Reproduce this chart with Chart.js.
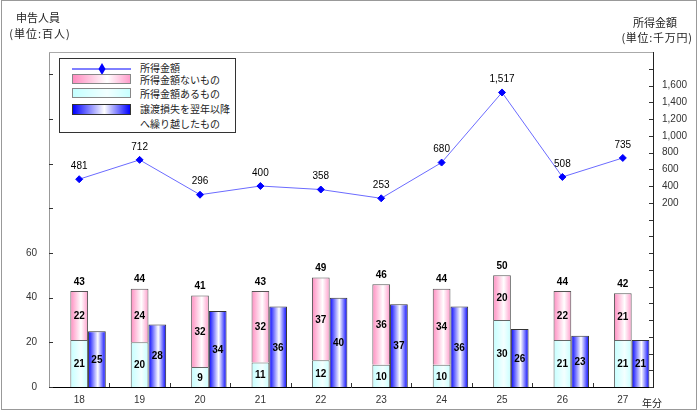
<!DOCTYPE html>
<html lang="ja">
<head>
<meta charset="utf-8">
<title>申告人員と所得金額</title>
<script src="https://cdn.jsdelivr.net/npm/chart.js@4.4.1/dist/chart.umd.min.js"></script>
<style>
body{margin:0;background:#fff;font-family:"Noto Sans CJK JP","Noto Sans",sans-serif;}
#wrap{position:relative;width:700px;height:414px;overflow:hidden;}
#frame{position:absolute;left:1px;top:0;width:696px;height:410px;border:1px solid #999;box-sizing:border-box;}
canvas{position:absolute;left:0;top:0;}
.t{position:absolute;font-size:11px;line-height:14px;color:#222;white-space:nowrap;text-align:center;}
#legend{position:absolute;left:59px;top:58px;width:177px;height:75px;border:1px solid #333;background:#fff;box-sizing:border-box;}
#legend .sw{position:absolute;left:12px;width:59px;height:10px;box-sizing:border-box;}
#legend .tx{position:absolute;left:80px;font-size:10px;line-height:12px;color:#222;white-space:nowrap;}
</style>
</head>
<body>
<div id="wrap">
  <div id="frame"></div>
  <canvas id="chart" width="700" height="414"></canvas>

  <div class="t" style="left:6px;top:10px;width:64px;">申告人員</div>
  <div class="t" style="left:6px;top:26px;width:68px;letter-spacing:1px;">(単位:百人)</div>
  <div class="t" style="left:615px;top:15px;width:80px;">所得金額</div>
  <div class="t" style="left:617px;top:30px;width:80px;letter-spacing:0.7px;">(単位:千万円)</div>
  <div class="t" style="left:642px;top:396px;font-size:10px;">年分</div>

  <!-- 凡例 -->
  <div id="legend">
    <svg style="position:absolute;left:12px;top:3px;" width="60" height="14">
      <line x1="0" y1="7" x2="59" y2="7" stroke="#0000ff" stroke-width="1"/>
      <polygon points="30,1 33.5,7 30,13 26.5,7" fill="#0000ff"/>
    </svg>
    <div class="tx" style="top:3px;">所得金額</div>
    <div class="sw" style="top:15px;border:1px solid #888;background:linear-gradient(to right,#ff8cc0,#ffffff 60%,#ff9ccb);"></div>
    <div class="tx" style="top:15px;">所得金額ないもの</div>
    <div class="sw" style="top:29px;border:1px solid #888;background:linear-gradient(to right,#c4ffff,#f2ffff 60%,#c8ffff);"></div>
    <div class="tx" style="top:29px;">所得金額あるもの</div>
    <div class="sw" style="top:45px;height:11px;border:1px solid #333;background:linear-gradient(to right,#0000ff,#ffffff 55%,#0000ff);"></div>
    <div class="tx" style="top:44px;">譲渡損失を翌年以降</div>
    <div class="tx" style="top:59px;">へ繰り越したもの</div>
  </div>
</div>

<script>
// データ
const years = ['18', '19', '20', '21', '22', '23', '24', '25', '26', '27'];
const withIncome = [21, 20, 9, 11, 12, 10, 10, 30, 21, 21];      // 所得金額あるもの
const noIncome = [22, 24, 32, 32, 37, 36, 34, 20, 22, 21];       // 所得金額ないもの
const totals = [43, 44, 41, 43, 49, 46, 44, 50, 44, 42];         // 合計
const carriedLoss = [25, 28, 34, 36, 40, 37, 36, 26, 23, 21];    // 譲渡損失を翌年以降へ繰り越したもの
const income = [481, 712, 296, 400, 358, 253, 680, 1517, 508, 735]; // 所得金額
const leftTicks = [0, 20, 40, 60];
const rightTicks = [200, 400, 600, 800, 1000, 1200, 1400, 1600];

const CAT_PCT = 0.88;
const NUM_FONT = '"Liberation Sans", Arial, sans-serif';

// 棒の横グラデーション
function barFill(stops, slot) {
    return function(ctx) {
        const chart = ctx.chart;
        const x = chart.scales.x;
        if (ctx.type !== 'data' || !x) return stops[0][1];
        const w = x.width / years.length * CAT_PCT / 3;
        const c = x.getPixelForValue(ctx.dataIndex) + (slot - 1) * w;
        if (!isFinite(c) || !isFinite(w) || w <= 0) return stops[0][1];
        const g = chart.ctx.createLinearGradient(c - w / 2, 0, c + w / 2, 0);
        stops.forEach(s => g.addColorStop(s[0], s[1]));
        return g;
    };
}

const pinkStops = [[0, '#ff8cc0'], [0.6, '#ffffff'], [1, '#ff9ccb']];
const cyanStops = [[0, '#c4ffff'], [0.6, '#f4ffff'], [1, '#c8ffff']];
const blueStops = [[0, '#0000ff'], [0.55, '#ffffff'], [1, '#0000ff']];

// 数値ラベル
const labelPlugin = {
    id: 'valueLabels',
    afterDatasetsDraw(chart) {
        const ctx = chart.ctx;
        ctx.save();
        ctx.fillStyle = '#000';
        ctx.textAlign = 'center';
        ctx.textBaseline = 'middle';
        ctx.font = 'bold 10px ' + NUM_FONT;
        [[2, withIncome], [3, noIncome], [4, carriedLoss]].forEach(([di, vals]) => {
            chart.getDatasetMeta(di).data.forEach((el, i) => {
                ctx.fillText(vals[i], el.x, (el.y + el.base) / 2 + 1);
            });
        });
        chart.getDatasetMeta(3).data.forEach((el, i) => {
            ctx.fillText(totals[i], el.x, el.y - 9);
        });
        ctx.font = '10px ' + NUM_FONT;
        chart.getDatasetMeta(0).data.forEach((el, i) => {
            ctx.fillText(income[i].toLocaleString('en-US'), el.x, el.y - 13);
        });
        ctx.restore();
    }
};

// 内向きの目盛りと上枠
const tickPlugin = {
    id: 'insideTicks',
    afterDraw(chart) {
        const { ctx, chartArea: a, scales: { x, y, y2 } } = chart;
        ctx.save();
        ctx.strokeStyle = '#333';
        ctx.lineWidth = 1;
        ctx.beginPath();
        y.ticks.forEach(t => {
            if (t.value % 20 !== 0) return;
            const py = Math.round(y.getPixelForValue(t.value)) + 0.5;
            ctx.moveTo(a.left, py); ctx.lineTo(a.left + 4, py);
        });
        y2.ticks.forEach(t => {
            const py = Math.round(y2.getPixelForValue(t.value)) + 0.5;
            ctx.moveTo(a.right - 4, py); ctx.lineTo(a.right, py);
        });
        for (let i = 1; i < years.length; i++) {
            const px = Math.round((x.getPixelForValue(i - 1) + x.getPixelForValue(i)) / 2) + 0.5;
            ctx.moveTo(px, a.bottom); ctx.lineTo(px, a.bottom - 4);
        }
        ctx.stroke();
        ctx.strokeStyle = '#aaa';
        ctx.beginPath();
        ctx.moveTo(a.left, a.top + 0.5); ctx.lineTo(a.right, a.top + 0.5);
        ctx.stroke();
        ctx.restore();
    }
};

const tickFont = { family: NUM_FONT, size: 10 };

new Chart(document.getElementById('chart'), {
    data: {
        labels: years,
        datasets: [
            {
                type: 'line', label: '所得金額', data: income, yAxisID: 'y2', order: 0,
                borderColor: '#6b6bff', borderWidth: 1, tension: 0,
                pointStyle: 'rectRot', pointRadius: 3.5, pointBackgroundColor: '#0000ff',
                pointBorderColor: '#0000ff', pointBorderWidth: 1
            },
            { type: 'bar', label: '', data: years.map(() => null), stack: 'pad', yAxisID: 'y', order: 1,
              barPercentage: 1, categoryPercentage: CAT_PCT },
            {
                type: 'bar', label: '所得金額あるもの', data: withIncome, stack: 'a', yAxisID: 'y', order: 1,
                backgroundColor: barFill(cyanStops, 1), borderColor: '#666', borderWidth: 1,
                barPercentage: 1, categoryPercentage: CAT_PCT
            },
            {
                type: 'bar', label: '所得金額ないもの', data: noIncome, stack: 'a', yAxisID: 'y', order: 1,
                backgroundColor: barFill(pinkStops, 1), borderColor: '#555', borderWidth: 1,
                barPercentage: 1, categoryPercentage: CAT_PCT
            },
            {
                type: 'bar', label: '譲渡損失を翌年以降へ繰り越したもの', data: carriedLoss, stack: 'b', yAxisID: 'y', order: 1,
                backgroundColor: barFill(blueStops, 2), borderColor: '#333', borderWidth: 1,
                barPercentage: 1, categoryPercentage: CAT_PCT
            }
        ]
    },
    options: {
        responsive: false,
        animation: false,
        devicePixelRatio: 1,
        layout: { padding: { top: 52 } },
        plugins: { legend: { display: false }, tooltip: { enabled: false } },
        scales: {
            x: {
                grid: { display: false, drawTicks: false },
                border: { color: '#000', width: 1 },
                ticks: { color: '#333', font: tickFont, padding: 7 },
                afterFit: s => { s.height = 27; }
            },
            y: {
                position: 'left', stacked: true, min: 0, max: 150,
                grid: { display: false, drawTicks: false },
                border: { color: '#999', width: 1 },
                ticks: {
                    stepSize: 20, autoSkip: false, color: '#333', font: tickFont, padding: 12,
                    callback: v => leftTicks.includes(v) ? v : ''
                },
                afterFit: s => { s.width = 49; }
            },
            y2: {
                position: 'right', min: -2000, max: 2000,
                grid: { display: false, drawTicks: false },
                border: { color: '#222', width: 1 },
                ticks: {
                    stepSize: 200, autoSkip: false, color: '#333', font: tickFont, padding: 9,
                    callback: v => rightTicks.includes(v) ? v.toLocaleString('en-US') : ''
                },
                afterFit: s => { s.width = 47; }
            }
        }
    },
    plugins: [labelPlugin, tickPlugin]
});
</script>
</body>
</html>
